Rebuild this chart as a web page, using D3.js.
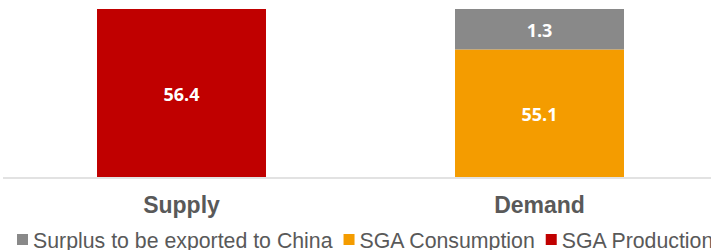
<!DOCTYPE html>
<html>
<head>
<meta charset="utf-8">
<script src="https://cdnjs.cloudflare.com/ajax/libs/d3/7.8.5/d3.min.js"></script>
<style>
  body { margin: 0; background: #fff; }
  svg { display: block; }
</style>
</head>
<body>
<script>
// chart data
var categories = ["Supply", "Demand"];
var seriesNames = ["SGA Production", "SGA Consumption", "Surplus to be exported to China"];
var production = [56.4, 0];
var consumption = [0, 55.1];
var surplus = [0, 1.3];
var legendOrder = ["Surplus to be exported to China", "SGA Consumption", "SGA Production"];

var colors = {
	"SGA Production": "#C00000",
	"SGA Consumption": "#F49C00",
	"Surplus to be exported to China": "#898989"
};

var width = 711, height = 250;
var svg = d3.select("body").append("svg")
	.attr("width", width)
	.attr("height", height);

var rows = categories.map(function (c, i) {
	return {
		cat: c,
		"SGA Production": production[i],
		"SGA Consumption": consumption[i],
		"Surplus to be exported to China": surplus[i]
	};
});

var stack = d3.stack().keys(seriesNames)(rows);

var x = d3.scaleBand()
	.domain(categories)
	.range([2.5, 718.5])
	.paddingInner(0.528)
	.paddingOuter(0.264);

// value axis does not start at zero in the original
var y = d3.scaleLinear()
	.domain([51, 56.4])
	.range([177, 9])
	.clamp(true);

var layers = svg.selectAll("g.layer")
	.data(stack)
	.enter().append("g")
	.attr("class", "layer")
	.attr("fill", function (d) { return colors[d.key]; });

layers.selectAll("rect")
	.data(function (d) { return d; })
	.enter().append("rect")
	.attr("x", function (d) { return x(d.data.cat); })
	.attr("width", x.bandwidth())
	.attr("y", function (d) { return y(d[1]); })
	.attr("height", function (d) { return y(d[0]) - y(d[1]); });

// data labels
layers.selectAll("text")
	.data(function (d) { return d.filter(function (p) { return p[1] - p[0] > 0; }); })
	.enter().append("text")
	.attr("x", function (d) { return x(d.data.cat) + x.bandwidth() / 2; })
	.attr("y", function (d) { return (y(d[0]) + y(d[1])) / 2; })
	.attr("text-anchor", "middle")
	.attr("dy", "0.42em")
	.attr("fill", "#fff")
	.style("font-family", "'Open Sans', sans-serif")
	.style("font-weight", "bold")
	.style("font-size", "18px")
	.text(function (d) { return d3.format(".1f")(d[1] - d[0]); });

// category axis
svg.append("line")
	.attr("x1", 3).attr("x2", width)
	.attr("y1", 178).attr("y2", 178)
	.attr("stroke", "#d9d9d9")
	.attr("stroke-width", 1.5);

svg.selectAll("text.cat")
	.data(categories)
	.enter().append("text")
	.attr("class", "cat")
	.attr("x", function (d) { return x(d) + x.bandwidth() / 2; })
	.attr("y", 213)
	.attr("text-anchor", "middle")
	.attr("fill", "#595959")
	.style("font-family", "'Liberation Sans', Arial, sans-serif")
	.style("font-weight", "bold")
	.style("font-size", "23px")
	.text(function (d) { return d; });

// legend, laid out left to right
var legend = svg.append("g");
var lx = 17;
legendOrder.forEach(function (name) {
	legend.append("rect")
		.attr("x", lx).attr("y", 234)
		.attr("width", 11).attr("height", 11)
		.attr("fill", colors[name]);
	var t = legend.append("text")
		.attr("x", lx + 16)
		.attr("y", 248)
		.attr("fill", "#595959")
		.style("font-family", "'Liberation Sans', Arial, sans-serif")
		.style("font-size", "21.3px")
		.text(name);
	lx = lx + 16 + t.node().getComputedTextLength() + 11;
});
</script>
</body>
</html>
